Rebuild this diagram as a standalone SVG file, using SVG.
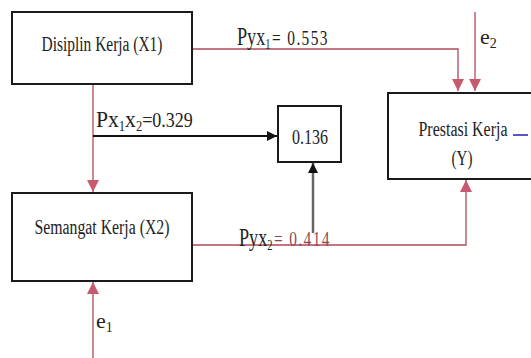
<svg xmlns="http://www.w3.org/2000/svg" width="531" height="358" viewBox="0 0 531 358">
<style>
.box{fill:#fff;stroke:#1a1a1a;stroke-width:2}
.lbl{font-family:"Liberation Serif","Times New Roman",serif;fill:#222}
.red{fill:none;stroke:#b04a5a;stroke-width:1.3}
.blk{fill:none;stroke:#111;stroke-width:2}
.gry{fill:none;stroke:#666;stroke-width:2.5}
</style>
<defs>
<marker id="ar" markerUnits="userSpaceOnUse" markerWidth="12" markerHeight="12" refX="12" refY="6" orient="auto"><path d="M0,0 L12,6 L0,12 z" fill="#c85a70"/></marker>
<marker id="ab" markerUnits="userSpaceOnUse" markerWidth="10" markerHeight="10" refX="10" refY="5" orient="auto"><path d="M0,0 L10,5 L0,10 z" fill="#111"/></marker>
</defs>
<rect width="531" height="358" fill="#fff"/>
<g id="connectors">
<path class="red" d="M192,49 H458 V91" marker-end="url(#ar)"/>
<path class="red" d="M475,12 V91" marker-end="url(#ar)"/>
<path class="red" d="M93,84 V192" marker-end="url(#ar)"/>
<path class="red" d="M192,245 H466 V180" marker-end="url(#ar)"/>
<path class="red" d="M93,358 V282" marker-end="url(#ar)"/>
<path class="blk" d="M93,136 H277" marker-end="url(#ab)"/>
<path class="gry" d="M313,233 V163" marker-end="url(#ab)"/>
<text class="lbl" transform="translate(237,45) scale(0.7,1)"><tspan font-size="26">Pyx</tspan><tspan font-size="15" dy="4">1</tspan><tspan font-size="22" dy="-4" dx="2" letter-spacing="2">= 0.553</tspan></text>
<text class="lbl" transform="translate(239,246) scale(0.7,1)"><tspan font-size="26">Pyx</tspan><tspan font-size="15" dy="4">2</tspan><tspan font-size="22" dy="-4" dx="2" letter-spacing="2" fill="#8a4a55">= 0.414</tspan></text>
<text class="lbl" transform="translate(96,127) scale(0.9,1)"><tspan font-size="24">Px</tspan><tspan font-size="14" dy="4">1</tspan><tspan font-size="24" dy="-4">x</tspan><tspan font-size="14" dy="4">2</tspan><tspan font-size="20" dy="-4">=0.329</tspan></text>
<text class="lbl" x="480" y="44"><tspan font-size="22">e</tspan><tspan font-size="14" dy="4">2</tspan></text>
<text class="lbl" x="96" y="328"><tspan font-size="22">e</tspan><tspan font-size="14" dy="4">1</tspan></text>
</g>
<g id="x1">
<rect class="box" x="12" y="12" width="180" height="72"/>
<text class="lbl" x="102" y="51" font-size="20" text-anchor="middle" textLength="121" lengthAdjust="spacingAndGlyphs">Disiplin Kerja (X1)</text>
</g>
<g id="x2">
<rect class="box" x="12" y="193" width="180" height="88"/>
<text class="lbl" x="102" y="234" font-size="20" text-anchor="middle" textLength="135" lengthAdjust="spacingAndGlyphs">Semangat Kerja (X2)</text>
</g>
<g id="y">
<rect class="box" x="388" y="93" width="160" height="86"/>
<text class="lbl" x="463" y="136" font-size="20" text-anchor="middle" textLength="89" lengthAdjust="spacingAndGlyphs">Prestasi Kerja</text>
<text class="lbl" x="462" y="165" font-size="20" text-anchor="middle" textLength="21" lengthAdjust="spacingAndGlyphs">(Y)</text>
<line x1="513" y1="135" x2="528" y2="135" stroke="#5a55c8" stroke-width="2"/>
</g>
<g id="r">
<rect class="box" x="278" y="106" width="63" height="56"/>
<text class="lbl" x="310" y="144" font-size="22" text-anchor="middle" textLength="36" lengthAdjust="spacingAndGlyphs" fill="#444">0.136</text>
</g>
</svg>
